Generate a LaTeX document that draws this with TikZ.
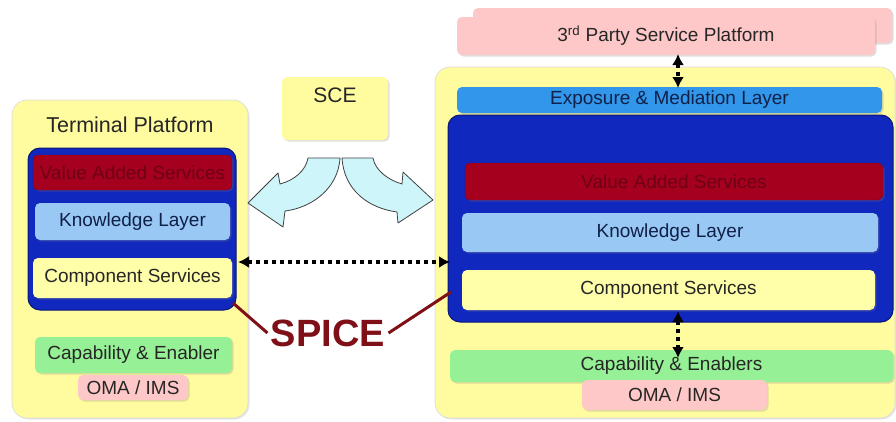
\documentclass[tikz,border=0pt]{standalone}
\usepackage{fontspec}
\setmainfont{Liberation Sans}
\usetikzlibrary{arrows.meta,shadows}

\definecolor{platform}{RGB}{255,252,160}
\definecolor{coreblue}{RGB}{16,40,190}
\definecolor{coreedge}{RGB}{10,22,120}
\definecolor{vasred}{RGB}{165,0,30}
\definecolor{vastext}{RGB}{110,0,20}
\definecolor{knowblue}{RGB}{153,200,245}
\definecolor{compyellow}{RGB}{255,255,170}
\definecolor{capgreen}{RGB}{150,240,150}
\definecolor{omapink}{RGB}{255,200,200}
\definecolor{expblue}{RGB}{50,150,235}
\definecolor{scefill}{RGB}{205,245,250}
\definecolor{spicered}{RGB}{128,16,24}
\definecolor{navytext}{RGB}{16,32,70}

\tikzset{
  txt/.style={font=\fontsize{19}{22}\selectfont, text=black!85},
  platbox/.style={draw=black!15, fill=platform, rounded corners=15pt, line width=0.6pt,
    drop shadow={shadow xshift=1.5pt, shadow yshift=-1.5pt, opacity=0.2}},
  corebox/.style={draw=coreedge, fill=coreblue, rounded corners=12pt, line width=1pt},
  layer/.style={txt, rounded corners=5pt, inner sep=0pt,
    drop shadow={shadow xshift=1.5pt, shadow yshift=-1.5pt, opacity=0.25}},
  vaslayer/.style={layer, fill=vasred, draw=vasred!80!black, text=vastext},
  knowlayer/.style={layer, fill=knowblue, text=navytext},
  complayer/.style={layer, fill=compyellow},
  caplayer/.style={layer, fill=capgreen},
  omalayer/.style={layer, fill=omapink},
  dotarrow/.style={line width=3.5pt, dash pattern=on 4pt off 4pt,
    {Latex[length=11pt,width=12pt]}-{Latex[length=11pt,width=12pt]}},
  spiceline/.style={draw=spicered, line width=3pt},
  sceflow/.style={draw=black!75, fill=scefill, line width=0.8pt, line join=round}
}

\begin{document}
\begin{tikzpicture}[x=1pt,y=-1pt]
\useasboundingbox (0,0) rectangle (896,421);

% terminal side
\node[platbox, minimum width=236pt, minimum height=318pt] (term) at (130,259) {};
\node[txt, font=\fontsize{21.5}{24}\selectfont] (termlabel) at (130,125) {Terminal Platform};
\node[corebox, minimum width=208pt, minimum height=162pt] (lcore) at (132,229) {};
\node[vaslayer, minimum width=199pt, minimum height=35pt] (lvas) at (132.5,172.5) {Value Added Services};
\node[knowlayer, minimum width=195pt, minimum height=37pt] (lknow) at (132.5,221.5) {Knowledge Layer};
\node[complayer, minimum width=199pt, minimum height=40pt] (lcomp) at (132.5,278) {Component Services};
\node[caplayer, minimum width=197pt, minimum height=36pt] (lcap) at (133.5,355) {Capability \& Enabler};
\node[omalayer, minimum width=110pt, minimum height=25pt] (loma) at (133,387.5) {OMA / IMS};

% service creation environment
\node[layer, fill=platform, minimum width=106pt, minimum height=63pt] (sce) at (335,108.5) {};
\node[txt, font=\fontsize{21}{24}\selectfont] (scelabel) at (335,95) {SCE};

% network side
\node[platbox, minimum width=460pt, minimum height=351pt] (net) at (665,242.5) {};
\node[omalayer, minimum width=419pt, minimum height=35pt] (thirdback) at (682.5,25.5) {};
\node[omalayer, minimum width=418pt, minimum height=38pt] (third) at (666,36) {3\textsuperscript{rd} Party Service Platform};
\node[layer, fill=expblue, text=navytext, minimum width=425pt, minimum height=26pt] (expo) at (669.5,100) {Exposure \& Mediation Layer};
\node[corebox, minimum width=445pt, minimum height=207pt] (rcore) at (670.5,218.5) {};
\node[vaslayer, minimum width=418pt, minimum height=37pt] (rvas) at (674,181.5) {Value Added Services};
\node[knowlayer, minimum width=416pt, minimum height=39pt] (rknow) at (670,232.5) {Knowledge Layer};
\node[complayer, minimum width=413pt, minimum height=40pt] (rcomp) at (668.5,290) {Component Services};
\node[caplayer, minimum width=443pt, minimum height=32pt] (rcap) at (671.5,366) {Capability \& Enablers};
\node[omalayer, minimum width=185pt, minimum height=30pt] (roma) at (674.5,395) {OMA / IMS};

% flows out of the SCE
\path[sceflow] (308,158) -- (340,158)
  .. controls (338,190) and (310,208) .. (285,211)
  -- (283,227) -- (248,203) -- (278,173) -- (280,184)
  .. controls (295,180) and (306,170) .. (308,158) -- cycle;
\path[sceflow] (342,158) -- (373,158)
  .. controls (375,170) and (388,180) .. (402,184)
  -- (403,172) -- (433,200) -- (398,223) -- (397,212)
  .. controls (368,208) and (344,190) .. (342,158) -- cycle;

% interfaces
\coordinate (tpa) at (678,54);
\coordinate (tpb) at (678,88);
\draw[dotarrow] (tpa) -- (tpb);
\coordinate (csa) at (678,311);
\coordinate (csb) at (678,358);
\draw[dotarrow] (csa) -- (csb);
\coordinate (ha) at (238,262);
\coordinate (hb) at (450,262);
\draw[dotarrow] (ha) -- (hb);

% SPICE label and its leaders
\node[font=\bfseries\fontsize{38}{40}\selectfont, text=spicered] (spice) at (328,333) {SPICE};
\coordinate (sl) at (233,303);
\coordinate (sr) at (451,292);
\draw[spiceline] (sl) -- (spice.west);
\draw[spiceline] (spice.east) -- (sr);
\end{tikzpicture}
\end{document}
